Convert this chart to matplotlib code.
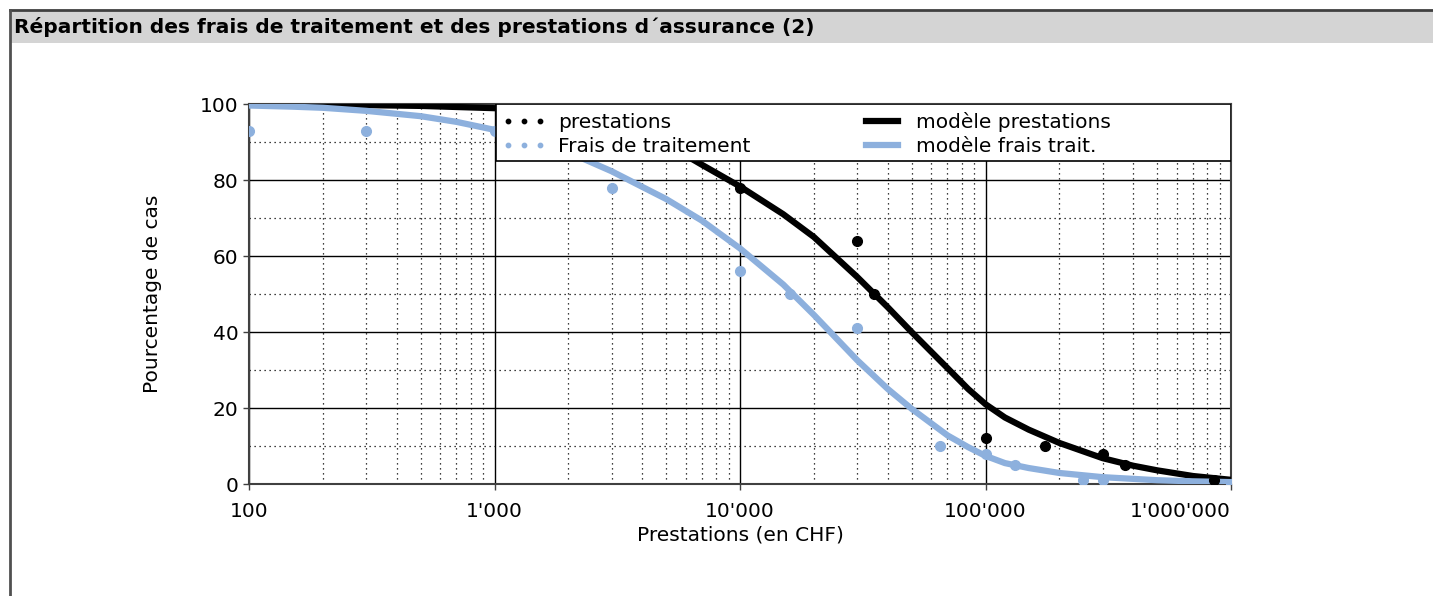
import numpy as np
import matplotlib
matplotlib.use("Agg")
import matplotlib.pyplot as plt
from matplotlib.patches import Rectangle
from matplotlib.lines import Line2D
from matplotlib.ticker import FuncFormatter, LogLocator, NullFormatter

# observed points (prestations)
prest_x = [10000, 30000, 35000, 100000, 175000, 300000, 370000, 850000]
prest_y = [78, 64, 50, 12, 10, 8, 5, 1]

# observed points (frais de traitement)
frais_x = [100, 300, 1000, 3000, 10000, 16000, 30000, 65000, 100000, 132000, 250000, 300000, 1000000]
frais_y = [93, 93, 93, 78, 56, 50, 41, 10, 8, 5, 1, 1, 0]

# model curves, values
prest_mx = [100, 200, 300, 500, 1000, 2000, 3000, 5000, 7000, 10000, 15000, 20000, 30000,
            40000, 50000, 70000, 85000, 100000, 120000, 150000, 200000, 300000, 400000,
            500000, 700000, 1000000]
prest_my = [99.9, 99.8, 99.7, 99.5, 98.9, 97.3, 95.0, 89.5, 84.0, 78.3, 71.0, 65.0, 54.5,
            46.5, 40.0, 30.5, 25.0, 21.0, 17.5, 14.3, 10.8, 6.8, 4.8,
            3.6, 2.1, 1.1]

frais_mx = [100, 150, 200, 300, 500, 700, 1000, 1500, 2000, 3000, 5000, 7000, 10000, 15000,
            20000, 30000, 40000, 50000, 70000, 85000, 100000, 120000, 150000, 200000,
            300000, 500000, 700000, 1000000]
frais_my = [99.6, 99.3, 99.0, 98.2, 96.8, 95.3, 93.2, 90.0, 87.3, 82.3, 75.0, 69.3, 62.0, 52.5,
            44.5, 32.6, 25.0, 19.8, 12.8, 9.7, 7.4, 5.5, 4.2, 2.9,
            1.8, 1.0, 0.7, 0.5]

xticks = [100, 1000, 10000, 100000, 1000000]
yticks = [0, 20, 40, 60, 80, 100]

blue = "#8DB0DD"

plt.rcParams["font.family"] = "DejaVu Sans"
plt.rcParams["font.size"] = 14.5

fig = plt.figure(figsize=(14.33, 5.96), dpi=100)

# panel frame: grey title bar and left border
fig.add_artist(Rectangle((10 / 1433, 1 - 43 / 596), 1 - 10 / 1433, 33 / 596,
                         transform=fig.transFigure, facecolor="#d4d4d4", edgecolor="none"))
fig.add_artist(Line2D([10 / 1433, 1], [1 - 10 / 596, 1 - 10 / 596], transform=fig.transFigure,
                      color="#404040", lw=2))
fig.add_artist(Line2D([10 / 1433, 10 / 1433], [0, 1 - 10 / 596], transform=fig.transFigure,
                      color="#505050", lw=2))
fig.text(14 / 1433, 1 - 27 / 596, "Répartition des frais de traitement et des prestations d´assurance (2)",
         fontsize=14.5, fontweight="bold", va="center", ha="left")

ax = fig.add_axes([249 / 1433, 1 - 484 / 596, (1231 - 249) / 1433, (484 - 104) / 596])

ax.plot(prest_mx, prest_my, color="black", lw=4.5, zorder=3, label="modèle prestations",
        solid_joinstyle="round")
ax.plot(frais_mx, frais_my, color=blue, lw=4.5, zorder=3, label="modèle frais trait.",
        solid_joinstyle="round")
ax.plot(prest_x, prest_y, "o", color="black", ms=7, zorder=4, label="prestations")
ax.plot(frais_x, frais_y, "o", color=blue, ms=7, zorder=4, label="Frais de traitement")

ax.set_xscale("log")
ax.set_xlim(100, 1000000)
ax.set_ylim(0, 100)
ax.set_xticks(xticks)
ax.xaxis.set_major_formatter(FuncFormatter(lambda v, p: f"{int(round(v)):,}".replace(",", "'")))
ax.xaxis.set_minor_locator(LogLocator(base=10, subs=np.arange(2, 10)))
ax.xaxis.set_minor_formatter(NullFormatter())
ax.set_yticks(yticks)
ax.set_yticks([10, 30, 50, 70, 90], minor=True)

ax.grid(True, which="major", color="black", lw=1, ls="-")
ax.grid(True, which="minor", color="black", lw=0.9, ls=(0, (1, 3)))
ax.tick_params(which="minor", length=0)
ax.tick_params(which="major", length=4, width=1, color="#404040")
ax.tick_params(axis="x", pad=9)
for s in ax.spines.values():
    s.set_color("#404040")
    s.set_linewidth(1.5)

ax.set_xlabel("Prestations (en CHF)", labelpad=3)
ax.set_ylabel("Pourcentage de cas", labelpad=27)

# the last label sits inside the axis end
labels = ax.get_xticklabels()
labels[-1].set_horizontalalignment("right")

# legend box drawn separately so it can reach the right edge
box_y0 = (484 - 161) / 380
ax.add_patch(Rectangle((0.2515, box_y0), 1 - 0.2515, 1 - box_y0, transform=ax.transAxes,
                       facecolor="white", edgecolor="black", lw=1.2, zorder=5))

h, l = ax.get_legend_handles_labels()
order = [2, 3, 0, 1]
leg = ax.legend([h[i] for i in order], [l[i] for i in order], ncol=2,
                loc="upper left", bbox_to_anchor=(0.2515, 0.995),
                numpoints=3, markerscale=0.45, handlelength=2.2, handletextpad=0.6,
                labelspacing=0.25, columnspacing=5.4, borderpad=0.3, borderaxespad=0,
                frameon=False)
leg.set_zorder(6)

fig.savefig("out.png", dpi=100)
